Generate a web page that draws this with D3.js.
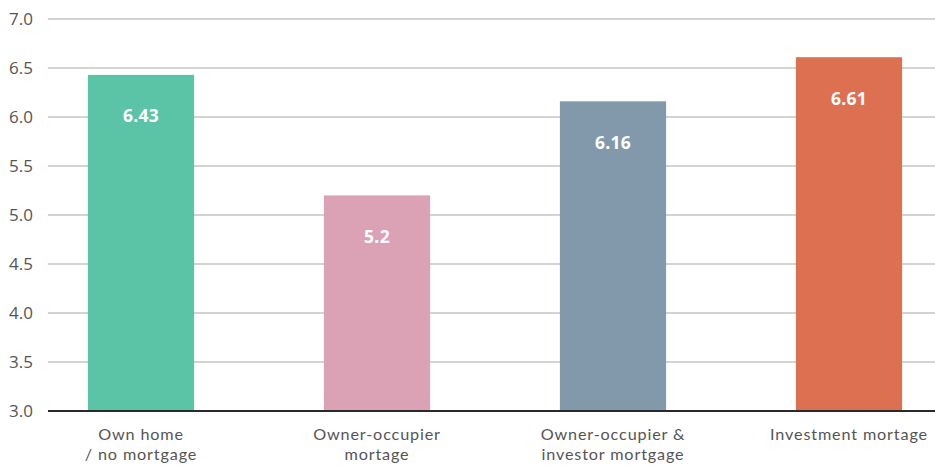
<!DOCTYPE html>
<html>
<head>
<meta charset="utf-8">
<script src="https://cdn.jsdelivr.net/npm/d3@7"></script>
<style>
  html, body { margin: 0; padding: 0; background: #fff; }
  svg { display: block; font-family: "Open Sans", sans-serif; }
</style>
</head>
<body>
<svg id="chart" width="935" height="466"></svg>
<script>
const categories = [["Own home", "/ no mortgage"], ["Owner-occupier", "mortage"], ["Owner-occupier &", "investor mortgage"], ["Investment mortage"]];
const values = [6.43, 5.2, 6.16, 6.61];
const valueLabels = ["6.43", "5.2", "6.16", "6.61"];
const colors = ["#5cc4a6", "#dba2b5", "#8299ac", "#de7052"];
const yTicks = [3.0, 3.5, 4.0, 4.5, 5.0, 5.5, 6.0, 6.5, 7.0];

const svg = d3.select("#chart");
const gridLeft = 48, gridRight = 935;
const y = d3.scaleLinear().domain([3, 7]).range([411, 19]);
const x = d3.scaleBand().domain(d3.range(values.length)).range([23, 967]).paddingInner(0.55).paddingOuter(0.275);

// gridlines
svg.append("g").selectAll("line").data(yTicks.filter(t => t > 3)).join("line")
  .attr("x1", gridLeft).attr("x2", gridRight)
  .attr("y1", d => y(d)).attr("y2", d => y(d))
  .attr("stroke", "#c4c4c4").attr("stroke-width", 1.3);

// y labels
svg.append("g").selectAll("text").data(yTicks).join("text")
  .attr("x", 33).attr("y", d => y(d)).attr("dy", "0.36em")
  .attr("text-anchor", "end").attr("fill", "#555").attr("font-size", 17)
  .text(d => d.toFixed(1));

// bars
svg.append("g").selectAll("rect").data(values).join("rect")
  .attr("x", (d, i) => x(i)).attr("width", x.bandwidth())
  .attr("y", d => y(d)).attr("height", d => y(3) - y(d))
  .attr("fill", (d, i) => colors[i]);

// baseline
svg.append("line").attr("x1", gridLeft).attr("x2", gridRight)
  .attr("y1", y(3)).attr("y2", y(3)).attr("stroke", "#2a2a2a").attr("stroke-width", 2);

// value labels
svg.append("g").selectAll("text").data(values).join("text")
  .attr("x", (d, i) => x(i) + x.bandwidth() / 2).attr("y", d => y(d) + 41).attr("dy", "0.36em")
  .attr("text-anchor", "middle").attr("fill", "#fff").attr("font-weight", "bold").attr("font-size", 17.5)
  .attr("letter-spacing", 0.3)
  .text((d, i) => valueLabels[i]);

// category labels (one text per line)
const lines = [];
categories.forEach((c, i) => c.forEach((t, j) => lines.push({ i, j, t })));
svg.append("g").selectAll("text").data(lines).join("text")
  .attr("x", d => x(d.i) + x.bandwidth() / 2)
  .attr("y", d => 440 + d.j * 19.5)
  .attr("text-anchor", "middle").attr("fill", "#555")
  .attr("font-family", "Lato, sans-serif").attr("font-size", 16.2).attr("letter-spacing", 0.85)
  .text(d => d.t);
</script>
</body>
</html>
